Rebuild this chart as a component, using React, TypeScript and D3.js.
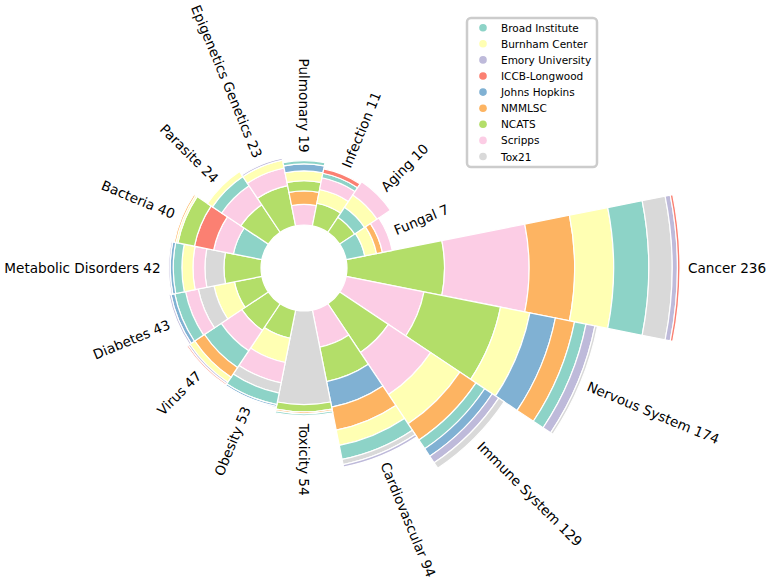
import React from "react";
import * as d3 from "d3";

// ---- data ----
const categories = [
  "Cancer", "Nervous System", "Immune System", "Cardiovascular", "Toxicity", "Obesity",
  "Virus", "Diabetes", "Metabolic Disorders", "Bacteria", "Parasite", "Epigenetics Genetics",
  "Pulmonary", "Infection", "Aging", "Fungal",
];
const totals = [236, 174, 129, 94, 54, 53, 47, 43, 42, 40, 24, 23, 19, 11, 10, 7];

const institutions = [
  "Broad Institute", "Burnham Center", "Emory University", "ICCB-Longwood", "Johns Hopkins",
  "NMMLSC", "NCATS", "Scripps", "Tox21",
];
const palette = ["#8dd3c7", "#ffffb3", "#bebada", "#fb8072", "#80b1d3", "#fdb462", "#b3de69", "#fccde5", "#d9d9d9"];

// stacks, inner -> outer
const cancer: [string, number][] = [["NCATS", 75], ["Scripps", 65], ["NMMLSC", 35], ["Burnham Center", 30], ["Broad Institute", 27], ["Tox21", 18], ["Emory University", 4], ["ICCB-Longwood", 2]];
const nervous: [string, number][] = [["Scripps", 61], ["NCATS", 60], ["Burnham Center", 23], ["Johns Hopkins", 20], ["NMMLSC", 15], ["Broad Institute", 9], ["Emory University", 7], ["Tox21", 2]];
const immune: [string, number][] = [["NCATS", 45], ["Scripps", 39], ["Burnham Center", 27], ["NMMLSC", 15], ["Broad Institute", 8], ["Johns Hopkins", 7], ["Emory University", 6], ["Tox21", 5]];
const cardio: [string, number][] = [["Scripps", 29], ["NCATS", 27], ["Johns Hopkins", 20], ["NMMLSC", 18], ["Burnham Center", 12], ["Broad Institute", 11], ["Tox21", 4], ["Emory University", 2]];
const toxicity: [string, number][] = [["Tox21", 72], ["NCATS", 5.5], ["NMMLSC", 1.5], ["Broad Institute", 1.5]];
const obesity: [string, number][] = [["NCATS", 22], ["Burnham Center", 19], ["Scripps", 16], ["Tox21", 8], ["Broad Institute", 9], ["Johns Hopkins", 1.5], ["Emory University", 1]];
const virus: [string, number][] = [["NCATS", 24.5], ["Scripps", 19], ["Broad Institute", 15.5], ["NMMLSC", 9], ["Burnham Center", 4.5], ["Emory University", 1.5], ["ICCB-Longwood", 1.2]];
const diabetes: [string, number][] = [["NCATS", 21.5], ["Burnham Center", 16], ["Tox21", 12.3], ["Scripps", 10], ["Broad Institute", 8.5], ["Johns Hopkins", 3], ["Emory University", 1.5]];
const metabolic: [string, number][] = [["NCATS", 28.5], ["Tox21", 14.6], ["Scripps", 9.2], ["Burnham Center", 8.5], ["Broad Institute", 6.7], ["Johns Hopkins", 2.3], ["Emory University", 1.2]];
const bacteria: [string, number][] = [["Broad Institute", 22.3], ["Scripps", 15.5], ["ICCB-Longwood", 15], ["NCATS", 13], ["Burnham Center", 1.5], ["NMMLSC", 1.3]];
const parasite: [string, number][] = [["NCATS", 25.4], ["Scripps", 17.7], ["Broad Institute", 8.5], ["Burnham Center", 4.6]];
const epigenetics: [string, number][] = [["NCATS", 31.5], ["Scripps", 13.8], ["Burnham Center", 6.2], ["Emory University", 1.5]];
const pulmonary: [string, number][] = [["Scripps", 15.8], ["NMMLSC", 10.4], ["NCATS", 7.8], ["Burnham Center", 7.6], ["Johns Hopkins", 5.4], ["Broad Institute", 2.5]];
const infection: [string, number][] = [["NCATS", 17.7], ["Burnham Center", 10.8], ["Scripps", 9.2], ["Broad Institute", 3.5], ["ICCB-Longwood", 3.5]];
const aging: [string, number][] = [["NCATS", 13.8], ["Broad Institute", 9.2], ["Burnham Center", 11.5], ["Scripps", 12.3]];
const fungal: [string, number][] = [["Broad Institute", 14.6], ["Burnham Center", 9.2], ["NMMLSC", 4.6], ["Scripps", 7.7]];

const stacks = [cancer, nervous, immune, cardio, toxicity, obesity, virus, diabetes, metabolic, bacteria, parasite, epigenetics, pulmonary, infection, aging, fungal];

// ---- layout ----
const W = 767, H = 578;
const CX = 304, CY = 268;
const INNER = 43, OUTER = 376;
const FONT = "'DejaVu Sans', sans-serif";

export default function App() {
  const color = d3.scaleOrdinal<string, string>().domain(institutions).range(palette);
  const sums = stacks.map((s) => d3.sum(s, (d) => d[1]));
  const r = d3.scaleLinear().domain([0, d3.max(sums)!]).range([INNER, OUTER]);
  const n = categories.length;
  const step = (2 * Math.PI) / n;
  const arc = d3.arc();

  const segs: { path: string; fill: string; key: string }[] = [];
  stacks.forEach((stack, i) => {
    const a = Math.PI / 2 + i * step;
    let acc = 0;
    stack.forEach(([inst, v], j) => {
      const p = arc({
        innerRadius: r(acc),
        outerRadius: r(acc + v),
        startAngle: a - step / 2,
        endAngle: a + step / 2,
      } as any) as string;
      segs.push({ path: p, fill: color(inst), key: `${i}-${j}` });
      acc += v;
    });
  });

  const labels = categories.map((c, i) => {
    const thetaDeg = -i * (360 / n);
    const tn = ((thetaDeg % 360) + 360) % 360;
    const flip = tn >= 90 && tn < 270;
    const rad = (thetaDeg * Math.PI) / 180;
    const rr = r(sums[i]) + 8;
    const x = CX + rr * Math.cos(rad);
    const y = CY - rr * Math.sin(rad);
    const rot = flip ? -tn + 180 : -tn;
    return { text: `${c} ${totals[i]}`, x, y, rot, anchor: flip ? "end" : "start" };
  });

  return (
    <svg width={W} height={H} style={{ position: "absolute", left: 0, top: 0, background: "#fff" }}>
      <g transform={`translate(${CX},${CY})`}>
        {segs.map((s) => (
          <path key={s.key} d={s.path} fill={s.fill} stroke="#fff" strokeWidth={1.2} />
        ))}
      </g>
      {labels.map((l, i) => (
        <text
          key={i}
          transform={`translate(${l.x},${l.y}) rotate(${l.rot})`}
          textAnchor={l.anchor}
          dominantBaseline="central"
          fontFamily={FONT}
          fontSize={13.6}
          fill="#000"
        >
          {l.text}
        </text>
      ))}
      <g>
        <rect x={467} y={18} width={130} height={149} rx={4} fill="#fff" stroke="#cccccc" strokeWidth={2.5} />
        {institutions.map((inst, i) => (
          <g key={inst} transform={`translate(0,${27.7 + i * 16.1})`}>
            <circle cx={483} cy={0} r={3.8} fill={color(inst)} />
            <text x={501} y={0} dominantBaseline="central" fontFamily={FONT} fontSize={10.5} fill="#000">
              {inst}
            </text>
          </g>
        ))}
      </g>
    </svg>
  );
}
